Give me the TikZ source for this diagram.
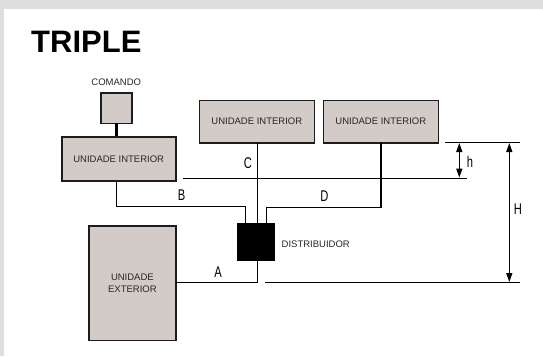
\documentclass[tikz,border=0pt]{standalone}
\usepackage{fontspec}
\setmainfont{Liberation Sans}
\newfontfamily\condfont[FakeStretch=0.72]{Liberation Sans}
\usetikzlibrary{arrows.meta}
\definecolor{bgframe}{HTML}{DEDEDE}
\definecolor{unitfill}{HTML}{D3CBC7}
\definecolor{edgecol}{HTML}{1C1C1C}
\tikzset{
  unit/.style={draw=edgecol, fill=unitfill, line width=1.6pt},
  pipe/.style={draw=black, line width=1.3pt},
  refline/.style={draw=black, line width=1.3pt},
  dim/.style={draw=black, line width=1.3pt, {Triangle[width=6pt,length=9pt]}-{Triangle[width=6pt,length=9pt]}},
  smalltxt/.style={inner sep=0pt, font=\fontsize{9.5}{12}\selectfont, text=black!85, align=center},
  lettertxt/.style={inner sep=0pt, font=\condfont\fontsize{15.5}{16}\selectfont},
}
\begin{document}
\begin{tikzpicture}[x=1pt,y=-1pt]
\useasboundingbox (0,0) rectangle (543,356);
\fill[bgframe] (0,0) rectangle (543,356);
\fill[white] (4.3,8.7) rectangle (542.7,356);

\node[anchor=base west, inner sep=0pt, font=\bfseries\fontsize{31}{31}\selectfont] (title) at (31,52.3) {TRIPLE};

% command
\node[smalltxt] (comtxt) at (116.3,82) {COMANDO};
\path[unit] (100.7,92.7) rectangle (132,123.3);
\coordinate (combot) at (116.3,123.3);
\coordinate (iuLtop) at (116.3,136.7);
\draw[line width=3.3pt] (combot) -- (iuLtop);

% indoor units
\path[unit] (61.7,136.7) rectangle (175.7,180.7);
\node[smalltxt] (iuL) at (118.7,159) {UNIDADE INTERIOR};
\path[unit] (199.3,100.5) rectangle (314.3,142.7);
\node[smalltxt] (iu1) at (256.8,121.6) {UNIDADE INTERIOR};
\path[unit] (323.3,100.5) rectangle (438.3,142.7);
\node[smalltxt] (iu2) at (380.8,121.6) {UNIDADE INTERIOR};

% outdoor unit
\path[unit] (89,226) rectangle (175.7,340.3);
\node[smalltxt, font=\fontsize{9.5}{12}\selectfont] (ou) at (132.4,283.3) {UNIDADE\\EXTERIOR};

% distributor
\fill[black] (237.3,223.3) rectangle (275,260.7);
\node[smalltxt, anchor=west] (distxt) at (281.5,244.3) {DISTRIBUIDOR};

% pipes
\coordinate (bStart) at (116.7,180.7);
\coordinate (bEnd) at (245.7,223.3);
\draw[pipe] (bStart) |- (245.7,206.7) -- (bEnd);
\coordinate (cStart) at (257.7,142.7);
\coordinate (cEnd) at (257.7,223.3);
\draw[pipe] (cStart) -- (cEnd);
\coordinate (dStart) at (381,142.7);
\coordinate (dEnd) at (266.7,223.3);
\draw[pipe] (dStart) |- (266.7,207.3) -- (dEnd);
\coordinate (aStart) at (257.7,260.7);
\coordinate (aEnd) at (175.7,282.7);
\draw[pipe] (aStart) |- (aEnd);

% reference lines
\coordinate (hL) at (182.7,178.3);
\coordinate (hR) at (467.3,178.3);
\draw[refline] (hL) -- (hR);
\coordinate (tL) at (445,142.3);
\coordinate (tR) at (520,142.3);
\draw[refline] (tL) -- (tR);
\coordinate (bL) at (265,282.7);
\coordinate (bR) at (520,282.7);
\draw[refline] (bL) -- (bR);

% dimensions
\coordinate (h1) at (459.3,143);
\coordinate (h2) at (459.3,177.6);
\draw[dim] (h1) -- (h2);
\coordinate (H1) at (509.3,143);
\coordinate (H2) at (509.3,282);
\draw[dim] (H1) -- (H2);

% letters
\node[lettertxt] (labC) at (248,163) {C};
\node[lettertxt] (labB) at (181.7,195.5) {B};
\node[lettertxt] (labD) at (324.5,196) {D};
\node[lettertxt] (labA) at (218,271.7) {A};
\node[lettertxt] (labh) at (470,162) {h};
\node[lettertxt] (labH) at (518,208.7) {H};
\end{tikzpicture}
\end{document}
